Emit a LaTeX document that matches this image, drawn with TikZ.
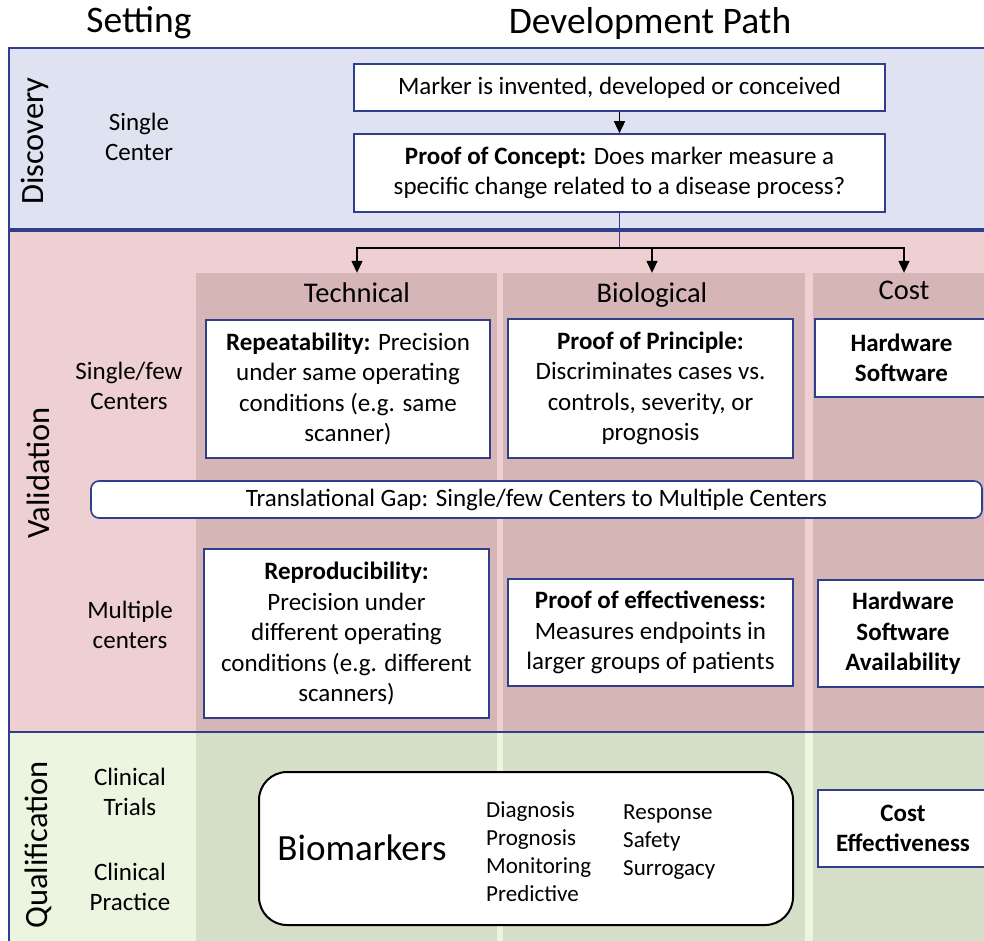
\documentclass[tikz,border=0pt]{standalone}
\usepackage{fontspec}
\setmainfont{Carlito}
\usetikzlibrary{arrows.meta,calc}
\definecolor{navy}{HTML}{2F3F8C}
\definecolor{discfill}{HTML}{DEE2F1}
\definecolor{valfill}{HTML}{EED0D2}
\definecolor{valcol}{HTML}{D6B5B7}
\definecolor{qualfill}{HTML}{EBF5E0}
\definecolor{qualcol}{HTML}{D5DEC6}
\newcommand\setfs[2]{\fontsize{#1}{#2}\selectfont}
\tikzset{
  box/.style={draw=navy, line width=1.6pt, fill=white, align=center, inner sep=0pt,
    font=\setfs{25}{30.5}},
  lbl/.style={align=center, inner sep=0pt, font=\setfs{25}{30.5}},
  hdr/.style={inner sep=0pt, font=\setfs{28.5}{34}, text height=0.7em, text depth=0.22em, minimum height=54pt},
  phase/.style={rotate=90, inner sep=0pt, font=\setfs{32.5}{38}},
  title/.style={inner sep=0pt, font=\setfs{37.5}{44}},
  arr/.style={-{Triangle[width=11pt,length=12pt]}, line width=1.4pt, black},
  listtxt/.style={align=left, inner sep=0pt, font=\setfs{23}{28}},
}
\begin{document}
\begin{tikzpicture}[x=1pt,y=-1pt]
\useasboundingbox (0,0) rectangle (984,940);
\clip (0,0) rectangle (984,940);
% bands
\fill[white] (0,0) rectangle (984,940);
\fill[discfill] (9,48) rectangle (1000,230);
\fill[valfill] (9,230) rectangle (1000,732);
\fill[qualfill] (9,732) rectangle (1000,950);
% columns
\fill[valcol] (196,273) rectangle (497,732);
\fill[valcol] (503,273) rectangle (805,732);
\fill[valcol] (813,273) rectangle (1000,732);
\fill[qualcol] (196,732) rectangle (497,950);
\fill[qualcol] (503,732) rectangle (805,950);
\fill[qualcol] (813,732) rectangle (1000,950);
% frame
\draw[navy, line width=2pt] (1000,48) -- (9,48) -- (9,950);
\draw[navy, line width=4pt] (9,230) -- (1000,230);
\draw[navy, line width=2pt] (9,732) -- (1000,732);
% titles
\node[title] (tset) at (139,23) {Setting};
\node[title] (tdev) at (650,23) {Development Path};
% phase labels
\node[phase] (ldisc) at (35,141) {Discovery};
\node[phase] (lval) at (38,473) {Validation};
\node[phase] (lqual) at (38,845) {Qualification};
% setting labels
\node[lbl] (sc) at (139,137) {Single\\Center};
\node[lbl] (sfc) at (129,386) {Single/few\\Centers};
\node[lbl] (mc) at (130,625) {Multiple\\centers};
\node[lbl] (ct) at (130,792) {Clinical\\Trials};
\node[lbl] (cp) at (130,887) {Clinical\\Practice};
% discovery boxes
\node[box, minimum width=531pt, minimum height=47pt] (marker) at (619.5,87.5) {Marker is invented, developed or conceived};
\node[box, minimum width=531pt, minimum height=78pt] (poc) at (619.5,173) {\textbf{Proof of Concept:} Does marker measure a\\specific change related to a disease process?};
\draw[arr] (marker) -- (poc);
% column headers
\node[hdr] (htech) at (357,300) {Technical};
\node[hdr] (hbio) at (652,300) {Biological};
\node[hdr, minimum height=48pt] (hcost) at (904,297) {Cost};
\coordinate (split) at (619.5,248);
\draw[navy, line width=1pt] (poc.south) -- (split);
\draw[arr] (split) -| (htech.north);
\draw[arr] (split) -| (hbio.north);
\draw[arr] (split) -| (hcost.north);
% validation boxes
\node[box, minimum width=284pt, minimum height=138pt] (rep) at (348,389) {\textbf{Repeatability:} Precision\\under same operating\\conditions (e.g. same\\scanner)};
\node[box, minimum width=285pt, minimum height=139pt] (pop) at (650.5,388.5) {\textbf{Proof of Principle:}\\Discriminates cases vs.\\controls, severity, or\\prognosis};
\node[box, minimum width=173pt, minimum height=78pt, font=\setfs{25}{30.5}\bfseries] (hw1) at (901.5,358) {Hardware\\Software};
\node[box, rounded corners=8pt, minimum width=891pt, minimum height=37pt] (gap) at (536.5,499.5) {Translational Gap: Single/few Centers to Multiple Centers};
\node[box, minimum width=285pt, minimum height=169pt] (repro) at (346.5,633.5) {\textbf{Reproducibility:}\\Precision under\\different operating\\conditions (e.g. different\\scanners)};
\node[box, minimum width=285pt, minimum height=107pt] (poe) at (650.5,632.5) {\textbf{Proof of effectiveness:}\\Measures endpoints in\\larger groups of patients};
\node[box, minimum width=170pt, minimum height=107pt, font=\setfs{25}{30.5}\bfseries] (hw2) at (903,633.5) {Hardware\\Software\\Availability};
% qualification
\node[draw=black, line width=2pt, rounded corners=28pt, fill=white, minimum width=534pt, minimum height=153pt] (bm) at (526,848.5) {};
\node[inner sep=0pt, font=\setfs{37}{44}] (bmt) at (362,848) {Biomarkers};
\node[listtxt, anchor=north west] (l1) at (486,801) {Diagnosis\\Prognosis\\Monitoring\\Predictive};
\node[listtxt, anchor=north west] (l2) at (623,805) {Response\\Safety\\Surrogacy};
\node[box, minimum width=170pt, minimum height=77pt, font=\setfs{25}{30.5}\bfseries] (ce) at (903,828.5) {Cost\\Effectiveness};
\end{tikzpicture}
\end{document}
